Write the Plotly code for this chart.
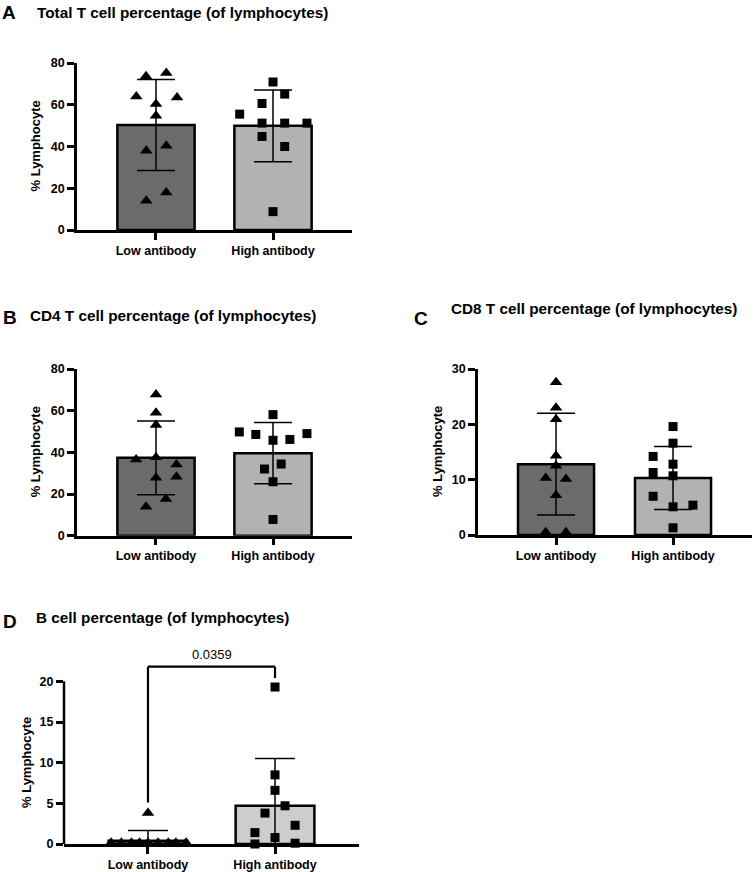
import plotly.graph_objects as go

W, H = 755, 872

groups = ["Low antibody", "High antibody"]

# Panel A: Total T cell
a_low = [73.6, 75.2, 64.0, 63.5, 60.3, 54.7, 38.0, 40.3, 18.0, 14.0]
a_low_x = [-0.085, 0.088, -0.168, 0.18, 0.0, 0.0, -0.083, 0.088, 0.088, -0.083]
a_high = [70.9, 65.1, 55.5, 60.6, 51.2, 51.2, 51.2, 44.8, 40.0, 8.8]
a_high_x = [1.0, 1.1, 0.715, 0.906, 0.906, 1.1, 1.29, 0.906, 1.1, 1.0]
a_mean = [50.3, 49.9]
a_sd = [21.8, 17.2]

# Panel B: CD4 T cell
b_low = [67.8, 59.0, 53.1, 36.6, 37.6, 34.2, 27.8, 28.3, 17.6, 13.9]
b_low_x = [0.0, 0.0, 0.0, -0.17, 0.0, 0.175, 0.0, 0.175, 0.085, -0.085]
b_high = [58.1, 49.8, 48.6, 45.8, 46.2, 49.0, 34.4, 32.0, 25.9, 7.8]
b_high_x = [1.0, 0.712, 0.853, 1.0, 1.144, 1.29, 1.07, 0.927, 1.0, 1.0]
b_mean = [37.4, 39.6]
b_sd = [17.7, 14.7]

# Panel C: CD8 T cell
c_low = [27.6, 23.0, 20.9, 14.3, 12.5, 10.3, 10.1, 7.2, 0.5, 0.5]
c_low_x = [0.0, 0.0, 0.0, 0.0, 0.0, -0.088, 0.085, 0.0, -0.088, 0.085]
c_high = [19.6, 16.6, 14.2, 12.8, 11.3, 10.7, 7.0, 5.1, 5.4, 1.3]
c_high_x = [1.0, 1.0, 0.83, 1.0, 0.83, 1.0, 0.83, 1.0, 1.17, 1.0]
c_mean = [12.8, 10.3]
c_sd = [9.2, 5.7]

# Panel D: B cell
d_low = [0.15, 0.15, 0.15, 0.15, 0.15, 0.15, 0.15, 0.15, 0.15, 3.8]
d_low_x = [-0.29, -0.21, -0.13, -0.066, 0.0, 0.079, 0.16, 0.22, 0.3, 0.0]
d_high = [19.3, 8.5, 6.6, 4.7, 3.8, 2.3, 1.4, 0.8, 0.0, 0.1]
d_high_x = [1.0, 1.0, 1.0, 1.079, 0.921, 1.158, 0.842, 1.0, 0.842, 1.158]
d_mean = [0.4, 4.7]
d_sd = [1.25, 5.8]
d_p_text = "0.0359"
d_bracket_y = [5.1, 21.8, 21.8, 20.4]
d_p_y = 23.3

titles = ["Total T cell percentage (of lymphocytes)",
          "CD4 T cell percentage (of lymphocytes)",
          "CD8 T cell percentage (of lymphocytes)",
          "B cell percentage (of lymphocytes)"]
letters = ["A", "B", "C", "D"]
ytitle = "% Lymphocyte"

FONT = "Liberation Sans, Arial, sans-serif"
DARK = "#6b6b6b"
LIGHT = "#b2b2b2"
LIGHT_D = "#cdcdcd"

def px_dom_x(a, b):
    return [a / W, b / W]

def px_dom_y(top, bottom):
    return [1 - bottom / H, 1 - top / H]

panels = [
    dict(s="", xd=(77, 352), yd=(63, 230), yr=[0, 80], yt=[0, 20, 40, 60, 80],
         xr=[-0.675, 1.675], bw=0.66, low=a_low, lx=a_low_x, high=a_high, hx=a_high_x,
         mean=a_mean, sd=a_sd, light=LIGHT, cap=19, ytx=35),
    dict(s="2", xd=(77, 352), yd=(369, 535.7), yr=[0, 80], yt=[0, 20, 40, 60, 80],
         xr=[-0.675, 1.675], bw=0.66, low=b_low, lx=b_low_x, high=b_high, hx=b_high_x,
         mean=b_mean, sd=b_sd, light=LIGHT, cap=19, ytx=35),
    dict(s="3", xd=(478, 752), yd=(369, 535), yr=[0, 30], yt=[0, 10, 20, 30],
         xr=[-0.667, 1.675], bw=0.65, low=c_low, lx=c_low_x, high=c_high, hx=c_high_x,
         mean=c_mean, sd=c_sd, light=LIGHT, cap=19, ytx=437),
    dict(s="4", xd=(64, 359), yd=(648.8, 844), yr=[0, 24], yt=[0, 5, 10, 15, 20],
         xr=[-0.661, 1.661], bw=0.62, low=d_low, lx=d_low_x, high=d_high, hx=d_high_x,
         mean=d_mean, sd=d_sd, light=LIGHT_D, cap=20, ytx=26),
]

fig = go.Figure()
layout = dict(width=W, height=H, margin=dict(l=0, r=0, t=0, b=0, pad=0),
              autosize=False,
              paper_bgcolor="white", plot_bgcolor="white", showlegend=False,
              font=dict(family=FONT, color="black"))
shapes = []
annotations = []

for p in panels:
    xa = "x" + p["s"]
    ya = "y" + p["s"]
    fig.add_trace(go.Bar(
        x=[0, 1], y=p["mean"], width=p["bw"], xaxis=xa, yaxis=ya,
        marker=dict(color=[DARK, p["light"]], line=dict(color="black", width=2.5)),
        error_y=dict(type="data", symmetric=False, array=p["sd"],
                     arrayminus=[min(s, m) for s, m in zip(p["sd"], p["mean"])],
                     color="black", thickness=1.5, width=p["cap"]),
        hoverinfo="skip"))
    fig.add_trace(go.Scatter(
        x=p["lx"], y=p["low"], mode="markers", xaxis=xa, yaxis=ya, cliponaxis=False,
        marker=dict(symbol="triangle-up", size=11, color="black")))
    fig.add_trace(go.Scatter(
        x=p["hx"], y=p["high"], mode="markers", xaxis=xa, yaxis=ya, cliponaxis=False,
        marker=dict(symbol="square", size=9, color="black")))

    is_d = (p["s"] == "4")
    layout["xaxis" + p["s"]] = dict(
        domain=px_dom_x(*p["xd"]), range=p["xr"], anchor=ya,
        tickvals=[0, 1], ticktext=groups, showgrid=False, zeroline=False,
        showline=True, linecolor="black", linewidth=2.5, automargin=False,
        ticks="outside", ticklen=7, tickwidth=2.5, tickcolor="black",
        tickfont=dict(size=12.5, family=FONT, color="black", weight="bold"),
        fixedrange=True)
    layout["yaxis" + p["s"]] = dict(
        domain=px_dom_y(*p["yd"]), range=p["yr"], anchor=xa,
        tickvals=p["yt"], showgrid=False, zeroline=False,
        showline=not is_d, linecolor="black", linewidth=2.5, automargin=False,
        ticks="outside", ticklen=7, tickwidth=2.5, tickcolor="black",
        tickfont=dict(size=12.5, family=FONT, color="black", weight="bold"),
        fixedrange=True)
    ycen = 763 if is_d else (p["yd"][0] + p["yd"][1]) / 2
    annotations.append(dict(text=ytitle, textangle=-90, xref="paper", yref="paper",
                            x=p["ytx"] / W, y=1 - ycen / H, showarrow=False,
                            xanchor="center", yanchor="middle",
                            font=dict(size=13, family=FONT, color="black", weight="bold")))

# D: manual y axis line up to 20 and significance bracket
shapes.append(dict(type="line", xref="x4 domain", yref="y4", x0=0, x1=0, y0=0, y1=20,
                   line=dict(color="black", width=2.5)))
bx = [0, 0, 1, 1]
for k in range(3):
    shapes.append(dict(type="line", xref="x4", yref="y4",
                       x0=bx[k], x1=bx[k + 1], y0=d_bracket_y[k], y1=d_bracket_y[k + 1],
                       line=dict(color="black", width=2.2)))
annotations.append(dict(text=d_p_text, xref="x4", yref="y4", x=0.5, y=d_p_y,
                        showarrow=False, font=dict(size=13, family=FONT, color="black")))

# panel letters & titles
letter_pos = [(0, 13), (1, 317), (412, 318), (1, 621)]
title_pos = [(35, 13), (28, 316), (449, 309), (34, 617)]
for L, t, lp, tp in zip(letters, titles, letter_pos, title_pos):
    annotations.append(dict(text=L, xref="paper", yref="paper", x=lp[0] / W, y=1 - lp[1] / H,
                            xanchor="left", yanchor="middle", showarrow=False,
                            font=dict(size=19, family=FONT, color="black", weight="bold")))
    annotations.append(dict(text=t, xref="paper", yref="paper", x=tp[0] / W, y=1 - tp[1] / H,
                            xanchor="left", yanchor="middle", showarrow=False,
                            font=dict(size=15.3, family=FONT, color="black", weight="bold")))

layout["shapes"] = shapes
layout["annotations"] = annotations
fig.update_layout(**layout)
fig.write_html("out.html", config={"displayModeBar": False, "responsive": False},
               post_script="document.body.style.margin='0';")
